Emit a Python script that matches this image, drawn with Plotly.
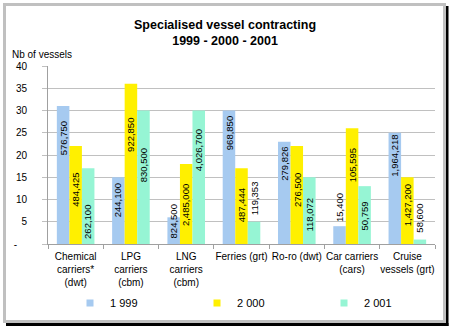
import plotly.graph_objects as go

# Vessel types (tick labels) and number of vessels contracted per year
categories = [
    "Chemical<br>carriers*<br>(dwt)",
    "LPG<br>carriers<br>(cbm)",
    "LNG<br>carriers<br>(cbm)",
    "Ferries (grt)",
    "Ro-ro (dwt)",
    "Car carriers<br>(cars)",
    "Cruise<br>vessels (grt)",
]
years = ["1 999", "2 000", "2 001"]
vessels_1999 = [31, 15, 6, 30, 23, 4, 25]
vessels_2000 = [22, 36, 18, 17, 22, 26, 15]
vessels_2001 = [17, 30, 30, 5, 15, 13, 1]

# Capacity contracted, shown as the bar labels
capacity_1999 = ["576,750", "244,100", "824,500", "968,850", "279,826", "15,400", "1,964,218"]
capacity_2000 = ["484,425", "922,850", "2,485,000", "487,444", "276,500", "105,595", "1,427,200"]
capacity_2001 = ["262,100", "830,500", "4,026,700", "119,353", "118,072", "50,759", "58,600"]

# Vertical centre of each rotated label, in axis units
label_pos_1999 = [23.8, 9.9, 5.0, 24.9, 18.1, 8.2, 19.8]
label_pos_2000 = [12.1, 24.5, 8.8, 8.6, 12.1, 17.7, 8.8]
label_pos_2001 = [5.0, 17.8, 21.0, 10.3, 6.7, 6.3, 5.9]

colors = ["#A6CAF0", "#FFF000", "#96F5D4"]

W, H = 452, 328
ML, MR, MT, MB = 48, 17, 66, 84
PW, PH = W - ML - MR, H - MT - MB
BARGAP = 0.32
FONT = "Liberation Sans, Arial, sans-serif"

series = [
    (vessels_1999, capacity_1999, label_pos_1999),
    (vessels_2000, capacity_2000, label_pos_2000),
    (vessels_2001, capacity_2001, label_pos_2001),
]

fig = go.Figure()
for i, (vals, caps, pos) in enumerate(series):
    fig.add_trace(go.Bar(
        x=categories, y=vals, name=years[i],
        marker=dict(color=colors[i], line=dict(width=0)),
        showlegend=False, hoverinfo="x+y",
    ))
    # small square legend swatches
    fig.add_trace(go.Scatter(
        x=[None], y=[None], mode="markers", name=years[i],
        marker=dict(symbol="square", size=7, color=colors[i]),
        showlegend=True,
    ))

# rotated value labels
cat_px = PW / len(categories)
bar_px = cat_px * (1 - BARGAP) / 3
annotations = []
for i, (vals, caps, pos) in enumerate(series):
    for c, cap, p in zip(categories, caps, pos):
        annotations.append(dict(
            x=c, y=p, xref="x", yref="y", text=cap, showarrow=False,
            textangle=-90, xshift=(i - 1) * bar_px,
            font=dict(family=FONT, size=9.5, color="black"),
            xanchor="center", yanchor="middle",
        ))

def px_x(px):
    return (px - ML) / PW

def px_y(py):
    return (H - MB - py) / PH

annotations.append(dict(
    x=px_x(10), y=px_y(55), xref="paper", yref="paper", text="Nb of vessels",
    showarrow=False, xanchor="left", yanchor="middle",
    font=dict(family=FONT, size=10, color="black"),
))
annotations.append(dict(
    x=px_x(225), y=px_y(32.5), xref="paper", yref="paper",
    text="<b>Specialised vessel contracting<br>1999 - 2000 - 2001</b>",
    showarrow=False, xanchor="center", yanchor="middle",
    font=dict(family=FONT, size=12.5, color="black"),
))

# chart frame: grey border with a black drop shadow on the right and bottom
def band(x0, y0, x1, y1, color):
    return dict(type="rect", xref="paper", yref="paper", layer="above",
                x0=px_x(x0), x1=px_x(x1), y0=px_y(y0), y1=px_y(y1),
                fillcolor=color, line=dict(width=0))

shapes = [
    band(3, 3, 446, 6, "#C0C0C0"),
    band(3, 3, 6, 323, "#C0C0C0"),
    band(443, 3, 446, 323, "#C0C0C0"),
    band(3, 320, 446, 323, "#C0C0C0"),
    band(446, 6, 448.5, 326, "black"),
    band(6, 323, 448.5, 326, "black"),
]

fig.update_layout(
    width=W, height=H,
    margin=dict(l=ML, r=MR, t=MT, b=MB, pad=0, autoexpand=False),
    paper_bgcolor="white", plot_bgcolor="white",
    barmode="group", bargap=BARGAP, bargroupgap=0,
    font=dict(family=FONT, size=10, color="black"),
    xaxis=dict(
        type="category", tickson="boundaries", tickangle=0,
        showline=True, linecolor="#A0A0A0", linewidth=1,
        ticks="outside", ticklen=4, tickcolor="#A0A0A0",
        showgrid=False, tickfont=dict(family=FONT, size=10, color="black"),
        ticklabelstandoff=3, fixedrange=True,
    ),
    yaxis=dict(
        range=[0, 40], tickvals=list(range(0, 41, 5)),
        ticktext=["-\u2002\u2002"] + [str(v) for v in range(5, 41, 5)],
        showline=True, linecolor="#A0A0A0", linewidth=1,
        ticks="outside", ticklen=5, tickcolor="#C0C0C0",
        showgrid=True, gridcolor="#C0C0C0", gridwidth=1,
        zeroline=False, ticklabelstandoff=13,
        tickfont=dict(family=FONT, size=10, color="black"),
        fixedrange=True,
    ),
    legend=dict(
        orientation="h", x=px_x(70),
        y=px_y(303), xanchor="left", yanchor="middle",
        entrywidth=82, entrywidthmode="pixels",
        font=dict(family=FONT, size=11, color="black"),
        bgcolor="rgba(0,0,0,0)", itemclick=False, itemdoubleclick=False,
    ),
    annotations=annotations,
    shapes=shapes,
)

fig.write_html("out.html", config={"displayModeBar": False})
